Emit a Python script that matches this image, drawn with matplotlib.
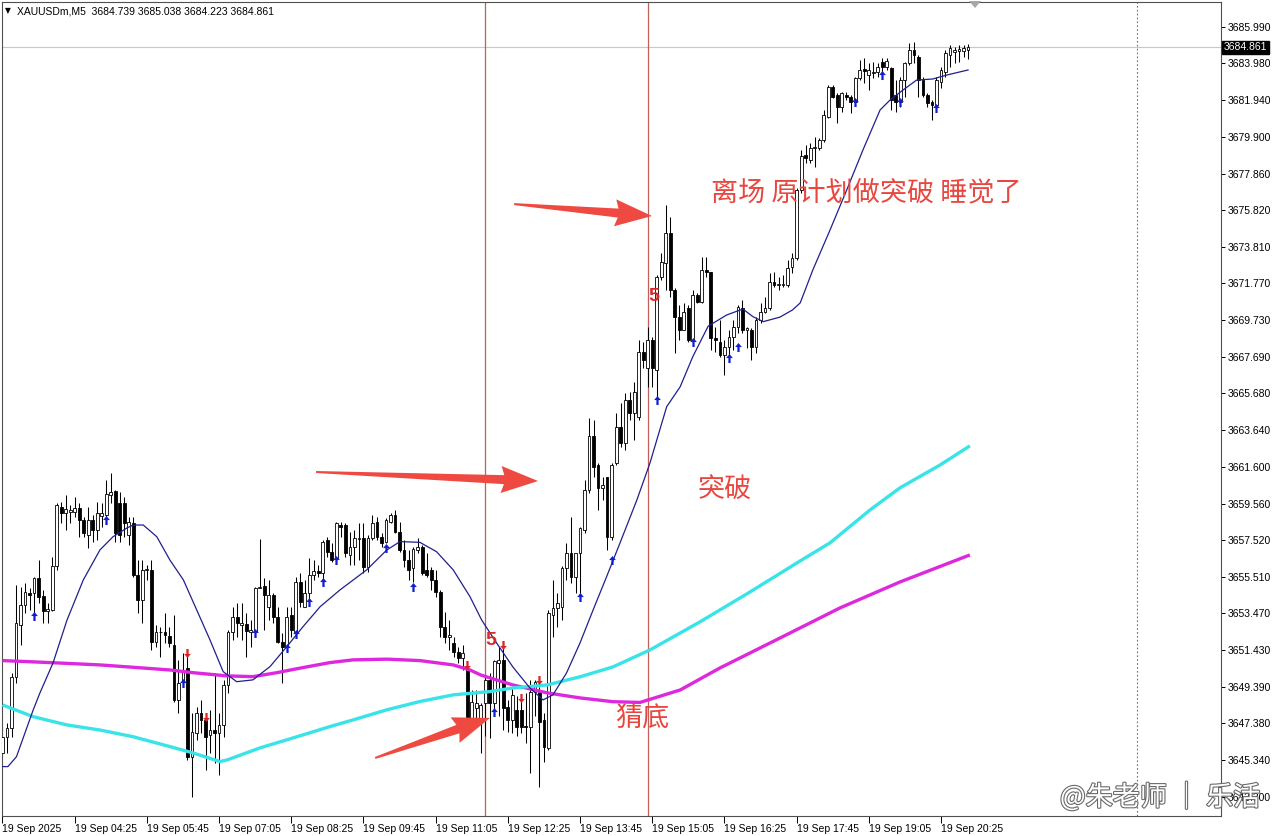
import matplotlib
matplotlib.use("Agg")
import matplotlib.pyplot as plt
import matplotlib.patheffects as pe
from matplotlib.patches import Polygon
from matplotlib.path import Path
from matplotlib.transforms import IdentityTransform, blended_transform_factory
import numpy as np

plt.rcParams['font.family'] = ['Liberation Sans', 'DejaVu Sans']

# ---------------- data ----------------
symbol_header = "XAUUSDm,M5  3684.739 3685.038 3684.223 3684.861"
last_price = 3684.861

opens = [3645.70, 3646.63, 3647.09, 3649.96, 3652.82, 3653.93, 3654.62, 3654.58, 3655.41, 3654.43,
         3653.62, 3653.66, 3656.09, 3659.39, 3659.05, 3659.11, 3659.11, 3659.29, 3658.65, 3657.82,
         3658.65, 3658.09, 3658.87, 3658.92, 3660.03, 3660.27, 3659.57, 3659.57, 3657.82, 3658.46,
         3655.60, 3654.21, 3655.87, 3655.87, 3651.90, 3652.42, 3652.45, 3652.22, 3651.72, 3648.67,
         3649.68, 3650.42, 3645.52, 3646.82, 3647.93, 3647.56, 3646.73, 3647.00, 3646.82, 3647.28,
         3649.50, 3652.46, 3653.29, 3652.83, 3652.88, 3652.46, 3652.46, 3654.86, 3654.99, 3653.84,
         3654.49, 3653.29, 3651.90, 3651.62, 3653.38, 3652.46, 3655.23, 3653.84, 3654.58, 3655.60,
         3655.84, 3655.69, 3657.54, 3656.89, 3656.52, 3658.37, 3658.37, 3656.70, 3657.17, 3657.57,
         3657.63, 3656.06, 3657.63, 3658.55, 3657.72, 3657.44, 3658.55, 3658.92, 3658.00, 3656.98,
         3656.43, 3655.96, 3656.98, 3657.13, 3655.87, 3655.87, 3655.32, 3654.67, 3652.73, 3652.17,
         3651.80, 3651.34, 3650.97, 3650.33, 3647.64, 3648.20, 3647.55, 3648.48, 3649.78, 3648.48,
         3650.70, 3650.89, 3648.30, 3647.56, 3648.12, 3648.12, 3647.23, 3647.19, 3649.13, 3649.13,
         3647.56, 3645.99, 3653.39, 3653.75, 3653.85, 3655.97, 3656.81, 3655.51, 3656.81, 3658.10,
         3660.32, 3663.28, 3661.71, 3660.41, 3661.06, 3657.73, 3661.80, 3663.83, 3662.91, 3665.31,
         3664.57, 3664.38, 3667.99, 3667.06, 3668.63, 3666.97, 3672.15, 3672.89, 3674.55, 3671.41,
         3669.93, 3669.19, 3670.39, 3668.63, 3671.13, 3670.76, 3672.52, 3672.42, 3668.76, 3668.54,
         3667.80, 3668.26, 3668.81, 3669.37, 3670.39, 3669.18, 3669.18, 3668.26, 3669.74, 3670.20,
         3670.39, 3671.87, 3671.68, 3671.68, 3671.68, 3672.70, 3673.16, 3676.95, 3678.90, 3678.62,
         3679.27, 3679.27, 3679.73, 3681.02, 3682.69, 3682.22, 3681.58, 3682.22, 3682.13, 3681.85,
         3683.15, 3683.65, 3683.33, 3683.43, 3683.52, 3684.07, 3683.76, 3683.70, 3682.22, 3681.85,
         3683.06, 3683.98, 3684.72, 3684.35, 3683.06, 3682.22, 3681.85, 3681.67, 3682.96, 3683.52,
         3684.44, 3684.63, 3684.68, 3684.68, 3684.739]
highs = [3647.09, 3647.37, 3650.14, 3655.04, 3654.95, 3655.13, 3654.86, 3655.50, 3656.43, 3654.76,
         3654.02, 3656.61, 3659.57, 3659.66, 3660.03, 3659.48, 3659.94, 3659.57, 3658.83, 3659.39,
         3658.92, 3659.66, 3659.57, 3660.87, 3661.24, 3660.31, 3660.22, 3659.94, 3658.83, 3658.83,
         3656.43, 3656.43, 3656.15, 3656.43, 3652.82, 3652.73, 3653.47, 3652.73, 3653.38, 3650.89,
         3651.26, 3651.26, 3647.93, 3648.30, 3648.67, 3647.93, 3648.11, 3650.15, 3647.93, 3649.78,
         3652.55, 3653.84, 3654.03, 3654.03, 3653.47, 3653.10, 3654.95, 3657.58, 3655.42, 3655.32,
         3654.58, 3653.84, 3652.37, 3653.84, 3653.84, 3655.51, 3655.69, 3655.32, 3656.52, 3656.43,
         3656.16, 3657.54, 3657.72, 3657.35, 3658.55, 3658.55, 3658.46, 3658.00, 3658.09, 3658.46,
         3658.46, 3657.81, 3658.92, 3658.83, 3657.91, 3658.74, 3659.02, 3659.20, 3658.55, 3657.54,
         3656.98, 3657.17, 3657.63, 3657.26, 3656.80, 3656.06, 3655.87, 3654.76, 3653.56, 3653.10,
         3652.17, 3651.62, 3651.71, 3650.70, 3649.22, 3649.22, 3648.48, 3649.96, 3650.15, 3650.89,
         3651.63, 3651.81, 3648.67, 3649.41, 3648.86, 3648.67, 3649.04, 3649.78, 3649.78, 3649.41,
         3647.93, 3653.66, 3655.33, 3654.59, 3656.07, 3657.36, 3658.84, 3656.81, 3658.28, 3660.87,
         3664.29, 3664.20, 3661.80, 3661.06, 3661.06, 3661.80, 3664.57, 3665.13, 3665.68, 3665.77,
         3666.32, 3668.63, 3668.54, 3669.37, 3668.82, 3672.24, 3673.44, 3676.12, 3675.48, 3671.50,
         3670.58, 3670.67, 3670.58, 3671.41, 3671.22, 3673.26, 3673.26, 3672.42, 3669.37, 3669.74,
         3668.63, 3669.18, 3669.74, 3670.57, 3670.85, 3669.37, 3669.28, 3669.92, 3670.66, 3671.03,
         3672.33, 3672.42, 3672.14, 3672.24, 3673.07, 3673.44, 3677.05, 3679.17, 3679.45, 3679.54,
         3679.91, 3679.82, 3681.39, 3682.78, 3682.78, 3682.32, 3682.41, 3682.41, 3682.22, 3683.24,
         3684.17, 3684.26, 3683.98, 3684.07, 3683.98, 3684.26, 3684.26, 3683.80, 3683.06, 3683.24,
         3684.07, 3685.09, 3685.18, 3684.44, 3683.24, 3682.32, 3681.95, 3683.24, 3683.80, 3684.72,
         3685.00, 3684.91, 3685.00, 3685.00, 3685.038]
lows = [3645.52, 3645.70, 3646.63, 3649.59, 3651.71, 3653.47, 3653.65, 3653.47, 3654.02, 3652.91,
        3652.91, 3653.62, 3655.87, 3658.46, 3658.09, 3658.46, 3658.83, 3657.72, 3657.72, 3657.07,
        3657.45, 3657.54, 3658.28, 3658.55, 3659.57, 3657.45, 3657.45, 3657.72, 3657.26, 3655.50,
        3653.47, 3652.91, 3655.32, 3651.44, 3651.62, 3651.07, 3651.81, 3651.62, 3648.57, 3647.93,
        3649.50, 3645.34, 3643.30, 3646.45, 3646.82, 3644.78, 3645.71, 3645.15, 3644.51, 3646.63,
        3649.04, 3652.00, 3652.18, 3652.00, 3651.07, 3651.63, 3652.18, 3654.86, 3652.55, 3653.10,
        3652.92, 3651.81, 3649.59, 3651.44, 3652.18, 3652.18, 3653.84, 3653.84, 3654.21, 3655.32,
        3655.51, 3655.32, 3656.61, 3656.33, 3656.33, 3657.72, 3656.61, 3656.15, 3656.15, 3656.43,
        3655.69, 3655.78, 3657.54, 3657.54, 3657.17, 3657.35, 3658.46, 3657.91, 3656.89, 3656.06,
        3655.32, 3655.23, 3656.80, 3655.60, 3655.50, 3654.76, 3654.39, 3652.17, 3651.80, 3651.44,
        3651.07, 3650.70, 3650.33, 3647.55, 3647.55, 3647.55, 3645.70, 3646.64, 3646.54, 3647.75,
        3647.75, 3647.01, 3646.91, 3646.82, 3646.64, 3646.82, 3646.27, 3644.60, 3647.75, 3643.86,
        3645.25, 3645.90, 3652.18, 3652.74, 3653.11, 3655.33, 3655.14, 3654.59, 3654.40, 3657.91,
        3660.13, 3661.06, 3659.21, 3659.76, 3656.99, 3657.54, 3661.71, 3662.72, 3662.54, 3664.20,
        3663.09, 3664.20, 3667.06, 3666.05, 3666.05, 3665.49, 3671.96, 3671.41, 3671.04, 3667.89,
        3668.63, 3669.19, 3668.54, 3668.45, 3670.67, 3670.67, 3672.15, 3668.08, 3667.99, 3667.70,
        3666.69, 3667.70, 3668.07, 3669.00, 3669.00, 3668.17, 3667.52, 3667.89, 3669.55, 3670.11,
        3670.29, 3671.59, 3671.40, 3671.59, 3671.59, 3672.33, 3673.07, 3676.77, 3678.43, 3678.43,
        3678.25, 3679.17, 3679.64, 3680.93, 3682.04, 3680.65, 3681.30, 3681.95, 3681.21, 3681.76,
        3683.06, 3682.87, 3682.50, 3683.15, 3683.24, 3683.43, 3683.61, 3681.39, 3681.30, 3681.58,
        3682.13, 3683.89, 3683.98, 3682.13, 3682.13, 3681.58, 3680.84, 3681.39, 3682.59, 3683.24,
        3683.80, 3683.98, 3684.07, 3684.35, 3684.223]
closes = [3646.63, 3647.09, 3649.96, 3652.91, 3653.93, 3654.67, 3654.49, 3655.41, 3654.39, 3653.62,
          3653.69, 3656.09, 3659.48, 3659.02, 3659.24, 3659.20, 3659.33, 3658.65, 3657.91, 3658.65,
          3658.09, 3659.05, 3659.05, 3660.09, 3660.22, 3657.91, 3657.82, 3658.46, 3658.55, 3655.60,
          3654.21, 3655.87, 3655.91, 3651.90, 3652.45, 3652.45, 3652.27, 3651.81, 3648.67, 3649.59,
          3650.33, 3645.52, 3646.91, 3647.93, 3647.56, 3646.63, 3647.00, 3646.82, 3647.28, 3649.50,
          3652.46, 3653.29, 3652.92, 3652.92, 3652.51, 3652.55, 3654.86, 3654.95, 3654.49, 3654.49,
          3653.29, 3651.90, 3651.62, 3653.29, 3652.55, 3655.23, 3654.12, 3654.58, 3655.60, 3655.84,
          3655.69, 3657.45, 3656.89, 3656.43, 3658.46, 3658.28, 3656.80, 3657.17, 3657.63, 3657.63,
          3656.06, 3657.63, 3658.46, 3657.72, 3657.39, 3658.65, 3658.92, 3658.00, 3656.98, 3656.43,
          3655.87, 3657.02, 3657.13, 3655.69, 3655.60, 3655.32, 3654.67, 3652.73, 3652.17, 3652.27,
          3651.34, 3650.97, 3651.25, 3647.64, 3648.57, 3648.48, 3648.38, 3649.77, 3648.48, 3650.80,
          3650.89, 3648.21, 3647.56, 3648.95, 3647.19, 3647.19, 3647.19, 3649.13, 3649.69, 3647.47,
          3646.08, 3653.48, 3653.75, 3654.03, 3655.97, 3656.81, 3655.51, 3656.81, 3658.19, 3660.32,
          3663.28, 3661.61, 3660.41, 3660.60, 3657.73, 3661.71, 3663.83, 3662.91, 3665.31, 3664.57,
          3665.77, 3667.99, 3667.52, 3668.63, 3667.06, 3672.15, 3672.98, 3674.55, 3671.41, 3669.93,
          3669.19, 3670.21, 3668.63, 3671.13, 3670.76, 3672.52, 3672.42, 3668.73, 3668.63, 3667.80,
          3668.26, 3668.81, 3669.37, 3670.48, 3669.18, 3669.28, 3668.26, 3669.74, 3670.20, 3670.39,
          3671.87, 3671.68, 3671.72, 3671.72, 3672.60, 3673.16, 3676.95, 3678.84, 3678.71, 3679.27,
          3679.36, 3679.73, 3681.11, 3682.69, 3682.13, 3681.58, 3682.32, 3682.13, 3681.85, 3683.15,
          3683.61, 3683.57, 3683.61, 3683.52, 3683.76, 3683.80, 3684.11, 3681.95, 3681.85, 3683.06,
          3683.98, 3684.72, 3684.44, 3683.06, 3682.22, 3681.76, 3681.67, 3683.06, 3683.61, 3684.54,
          3684.81, 3684.72, 3684.76, 3684.81, 3684.861]

# moving-average lines, read at sample bars
navy_idx = [0, 1.2, 3.1, 6.8, 8.3, 11.2, 14.3, 17.9, 21.6, 24.5, 27.6, 29, 31.2, 34.2, 37.1, 40.1, 46,
            48.9, 51.9, 55.5, 59.3, 63, 66.6, 70.4, 74.8, 80.7, 85.2, 88.1, 92.5, 96.2, 99.9, 103.6,
            106.2, 109.5, 113.1, 116.9, 119.8, 122, 125, 128, 130.9, 133.9, 136.9, 140.6, 143.5,
            147.2, 150.2, 153, 156.4, 160.5, 164.1, 166.3, 168.6, 172.3, 175.1, 176.8, 179.6, 183.4,
            187.1, 190.7, 194.5, 196.7, 199.6, 202.6, 206.2, 209.3, 214]
navy_val = [3644.97, 3644.97, 3645.52, 3648.11, 3649.06, 3650.72, 3653.10, 3655.32, 3656.99, 3657.72,
            3658.21, 3658.37, 3658.37, 3657.72, 3656.43, 3655.32, 3651.99, 3650.24, 3649.68, 3649.78,
            3650.52, 3651.62, 3652.73, 3653.84, 3654.77, 3655.88, 3656.99, 3657.45, 3657.41, 3656.89,
            3655.88, 3654.40, 3653.10, 3651.83, 3650.50, 3649.33, 3648.67, 3648.95, 3650.16, 3651.83,
            3653.66, 3655.51, 3657.40, 3659.76, 3661.81, 3664.93, 3666.04, 3667.71, 3669.40, 3670.02,
            3670.35, 3669.93, 3669.65, 3669.90, 3670.30, 3670.69, 3672.52, 3674.73, 3676.95, 3679.17,
            3681.39, 3681.94, 3682.50, 3683.05, 3683.11, 3683.33, 3683.61]
cyan_idx = [0, 6.8, 14.3, 21.6, 28.9, 37.1, 42.2, 48.2, 49.8, 57.1, 64.4, 72.6, 77.7, 85.2, 92.5, 99.9,
            108, 113.1, 120.7, 128, 135.3, 143.5, 154.6, 165.7, 176.8, 183.4, 192.3, 198.9, 207.8, 214.4]
cyan_val = [3648.39, 3647.74, 3647.28, 3647.00, 3646.63, 3646.08, 3645.73, 3645.25, 3645.34, 3646.01,
            3646.56, 3647.19, 3647.56, 3648.12, 3648.58, 3648.95, 3649.13, 3649.33, 3649.50, 3649.95,
            3650.50, 3651.44, 3653.00, 3654.66, 3656.38, 3657.38, 3659.21, 3660.43, 3661.70, 3662.76]
magenta_idx = [0, 10.5, 21.6, 28.9, 37.1, 42.2, 49.8, 55.5, 60.8, 65.9, 72.6, 77.7, 85.2, 92.5, 99.9,
               103.6, 106, 113.1, 120.7, 128, 135.3, 141.3, 150.2, 159, 172.3, 185.6, 198.9, 214.4]
magenta_val = [3650.85, 3650.74, 3650.61, 3650.48, 3650.33, 3650.18, 3650.00, 3649.96, 3650.18, 3650.43,
               3650.74, 3650.89, 3650.93, 3650.85, 3650.61, 3650.33, 3650.05, 3649.50, 3649.06, 3648.78,
               3648.57, 3648.53, 3649.22, 3650.44, 3652.10, 3653.77, 3655.21, 3656.71]

# signal arrows
up_idx = [7, 23, 40, 56, 63, 65, 68, 71, 74, 85, 91, 109, 128, 135, 145, 153, 161, 163, 189, 195, 199, 207]
up_val = [3653.33, 3658.65, 3649.59, 3652.38, 3651.55, 3652.33, 3654.12, 3655.23, 3656.43, 3657.10,
          3654.95, 3648.02, 3654.40, 3656.43, 3665.31, 3668.54, 3667.62, 3668.26, 3681.85, 3683.33,
          3681.85, 3681.48]
down_idx = [41, 45, 103, 111, 115, 119]
down_val = [3651.26, 3647.71, 3650.61, 3651.72, 3648.78, 3649.78]

count_labels = ["5", "5"]
count_idx = [108.3, 144.4]
count_val = [3651.94, 3671.02]

price_ticks = [3685.990, 3683.980, 3681.940, 3679.900, 3677.860, 3675.820, 3673.810, 3671.770,
               3669.730, 3667.690, 3665.680, 3663.640, 3661.600, 3659.560, 3657.520, 3655.510,
               3653.470, 3651.430, 3649.390, 3647.380, 3645.340, 3643.300]
time_tick_idx = [0, 16, 32, 48, 64, 80, 96, 112, 128, 144, 160, 176, 192, 208]
time_labels = ['19 Sep 2025', '19 Sep 04:25', '19 Sep 05:45', '19 Sep 07:05', '19 Sep 08:25',
               '19 Sep 09:45', '19 Sep 11:05', '19 Sep 12:25', '19 Sep 13:45', '19 Sep 15:05',
               '19 Sep 16:25', '19 Sep 17:45', '19 Sep 19:05', '19 Sep 20:25']
vline_idx = [107, 143]
day_sep_idx = 251.4

notes = ["离场 原计划做突破 睡觉了", "突破", "猜底"]
notes_idx = [157.0, 154.1, 135.7]
notes_val = [3676.79, 3660.31, 3647.67]

# big hand-drawn arrows: (tail index, tail price, tip index, tip price)
big_arrows = [(113.4, 3676.17, 143.95, 3675.51),
              (69.5, 3661.31, 118.7, 3660.81),
              (82.6, 3645.45, 108.05, 3647.67)]

# ---------------- figure ----------------
W, H = 1280, 836
fig = plt.figure(figsize=(W / 100, H / 100), dpi=100)
fig.patch.set_facecolor('white')
ax = fig.add_axes([2 / W, 20 / H, 1219 / W, 814 / H])
ax.set_facecolor('white')
ax.set_xlim(-0.11, 270.06)
ax.set_ylim(3642.23, 3687.38)

idx = np.arange(len(closes))
o = np.array(opens); c = np.array(closes); hi = np.array(highs); lo = np.array(lows)

# bid line
ax.axhline(last_price, color='#c8c8c8', lw=0.8, zorder=1)
# vertical markers
for v in vline_idx:
    ax.axvline(v, color='#c0605a', lw=0.9, zorder=1)
ax.axvline(day_sep_idx, color='#707070', lw=0.8, ls=(0, (1.5, 2)), zorder=1)

# candles
ax.vlines(idx, lo, hi, color='black', lw=0.75, zorder=2)
bull = c >= o
bottoms = np.minimum(o, c)
heights = np.maximum(np.abs(c - o), 0.02)
ax.bar(idx[bull], heights[bull], bottom=bottoms[bull], width=0.62, color='white',
       edgecolor='black', linewidth=0.6, zorder=3)
ax.bar(idx[~bull], heights[~bull], bottom=bottoms[~bull], width=0.62, color='black',
       edgecolor='black', linewidth=0.6, zorder=3)

# moving averages
ax.plot(magenta_idx, magenta_val, color='#de28de', lw=2.4, solid_capstyle='butt', zorder=4)
ax.plot(cyan_idx, cyan_val, color='#38e4e8', lw=2.4, solid_capstyle='butt', zorder=4)
ax.plot(navy_idx, navy_val, color='#1f1f8f', lw=0.9, zorder=5)

# signal arrows
up_path = Path([(0, 1), (-0.75, 0.1), (-0.25, 0.1), (-0.25, -1), (0.25, -1), (0.25, 0.1),
                (0.75, 0.1), (0, 1)],
               [Path.MOVETO] + [Path.LINETO] * 6 + [Path.CLOSEPOLY])
down_path = Path([(x, -y) for x, y in up_path.vertices], up_path.codes)
ax.scatter(up_idx, up_val, marker=up_path, s=42, c='#1020d0', linewidths=0, zorder=6)
ax.scatter(down_idx, down_val, marker=down_path, s=42, c='#e02424', linewidths=0, zorder=6)

for lab, xi, yv in zip(count_labels, count_idx, count_val):
    ax.text(xi, yv, lab, color='#d62828', fontsize=14, fontweight='bold', ha='center',
            va='center', zorder=7)

# axes styling
for s in ax.spines.values():
    s.set_color('#505050')
    s.set_linewidth(0.8)
ax.yaxis.tick_right()
ax.set_yticks(price_ticks)
ax.set_yticklabels([f"{p:.3f}" for p in price_ticks])
ax.tick_params(axis='y', direction='out', length=3, width=0.7, labelsize=7.5, pad=2,
               colors='black')
ax.set_xticks(time_tick_idx)
ax.set_xticklabels(time_labels)
ax.tick_params(axis='x', direction='out', length=5, width=0.7, labelsize=7.5, pad=0.5)
for t in ax.get_xticklabels():
    t.set_horizontalalignment('left')

# current price box
trans = blended_transform_factory(ax.transAxes, ax.transData)
ax.text(1.0 + 3 / 1219, last_price, f"{last_price:.3f}", transform=trans, color='white',
        fontsize=7.5, ha='left', va='center', zorder=10,
        bbox=dict(boxstyle='square,pad=0.18', fc='black', ec='black'))

# header
fig.text(5 / W, 1 - 11 / H, "▼", fontsize=5.5, va='center', ha='left', family=['DejaVu Sans'])
fig.text(17 / W, 1 - 11 / H, symbol_header, fontsize=7.5, va='center', ha='left')

# notes
for t, xi, yv in zip(notes, notes_idx, notes_val):
    ax.text(xi, yv, t, color='#e8473f', fontsize=19.5, ha='left', va='center',
            family=['Noto Sans CJK SC', 'DejaVu Sans'], zorder=8)

# big arrows (shape built in pixel space from data endpoints)
fig.canvas.draw()
for (ti, tv, hi_, hv) in big_arrows:
    p0 = ax.transData.transform((ti, tv))
    p1 = ax.transData.transform((hi_, hv))
    d = p1 - p0
    L = np.hypot(*d)
    u = d / L
    n = np.array([-u[1], u[0]])
    hl, hw, w0, w1 = 34.0, 13.5, 1.0, 4.5
    base = p1 - u * hl
    verts = [p0 + n * w0, base + n * w1, base - u * 3 + n * hw, p1, base - u * 3 - n * hw,
             base - n * w1, p0 - n * w0]
    fig.patches.append(Polygon(verts, closed=True, transform=IdentityTransform(),
                               fc='#ef4a42', ec='none', zorder=9))

# chart-shift marker at top
fig.patches.append(Polygon([(969, H - 1), (981, H - 1), (975, H - 8)], closed=True,
                           transform=IdentityTransform(), fc='#a8a8a8', ec='none'))

# watermark
fig.text(1060 / W, 1 - 797 / H, "@朱老师 ｜ 乐活", fontsize=19.5, color='white', ha='left',
         va='center', family=['Noto Sans CJK SC', 'DejaVu Sans'],
         path_effects=[pe.withStroke(linewidth=1.6, foreground='#6a6a6a')], zorder=20)

fig.savefig('out.png', dpi=100, facecolor='white')
